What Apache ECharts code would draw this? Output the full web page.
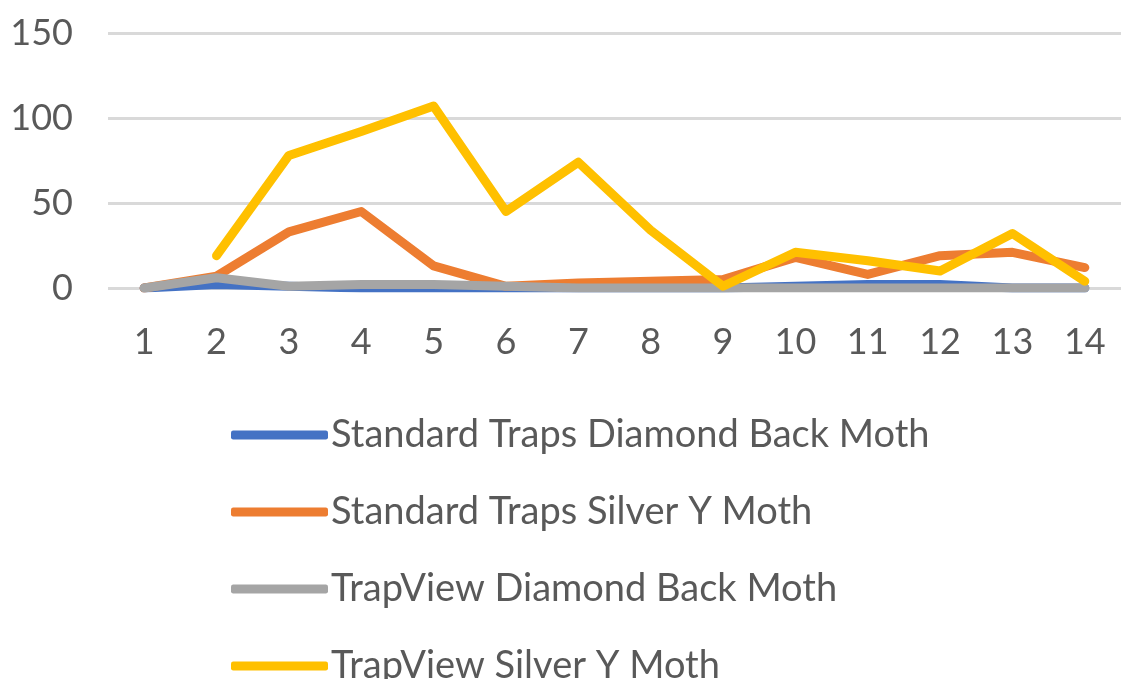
<!DOCTYPE html>
<html>
<head>
<meta charset="utf-8">
<script src="https://cdn.jsdelivr.net/npm/echarts@6/dist/echarts.min.js"></script>
<style>html,body{margin:0;padding:0;background:#fff;}#c{width:1121px;height:679px;}</style>
</head>
<body>
<div id="c"></div>
<script>
const categories = ['1','2','3','4','5','6','7','8','9','10','11','12','13','14'];
const seriesNames = ['Standard Traps Diamond Back Moth','Standard Traps Silver Y Moth','TrapView Diamond Back Moth','TrapView Silver Y Moth'];
const stdDBM = [0, 2, 1, 0, 0, 0, 0, 0, 0, 1, 2, 2, 0, 0];
const stdSilverY = [0, 7, 33, 45, 13, 1, 3, 4, 5, 18, 8, 19, 21, 12];
const tvDBM = [0, 6, 1, 2, 2, 1, 0, 0, 0, 0, 0, 0, 0, 0];
const tvSilverY = [null, 19, 78, 92, 107, 45, 74, 34, 1, 21, 16, 10, 32, 4];
const yTicks = [0, 50, 100, 150];
const colors = ['#4472C4', '#ED7D31', '#A5A5A5', '#FFC000'];

const chart = echarts.init(document.getElementById('c'));
const dataSets = [stdDBM, stdSilverY, tvDBM, tvSilverY];
chart.setOption({
  animation: false,
  color: colors,
  textStyle: { fontFamily: 'Lato' },
  grid: { left: 108, right: 0, top: 33, bottom: 391, containLabel: false },
  xAxis: {
    type: 'category',
    data: categories,
    boundaryGap: true,
    axisLine: { show: false },
    axisTick: { show: false },
    axisLabel: { color: '#595959', fontSize: 36, fontFamily: 'Lato', margin: 36 }
  },
  yAxis: {
    type: 'value',
    min: yTicks[0],
    max: yTicks[yTicks.length - 1],
    interval: 50,
    axisLine: { show: false },
    axisTick: { show: false },
    axisLabel: { color: '#595959', fontSize: 36, fontFamily: 'Lato', margin: 35 },
    splitLine: { lineStyle: { color: '#D9D9D9', width: 3 } }
  },
  legend: {
    orient: 'vertical',
    left: 226,
    top: 410,
    height: 400,
    itemWidth: 97,
    itemHeight: 9,
    itemGap: 37,
    icon: 'roundRect',
    textStyle: { color: '#595959', fontSize: 38, fontFamily: 'Lato', lineHeight: 40, padding: [0,0,0,-2] },
    data: seriesNames
  },
  series: seriesNames.map((name, i) => ({
    name: name,
    type: 'line',
    data: dataSets[i],
    showSymbol: false,
    symbol: 'none',
    connectNulls: false,
    lineStyle: { width: 9, color: colors[i], cap: 'round', join: 'round' },
    itemStyle: { color: colors[i] }
  }))
});
</script>
</body>
</html>
